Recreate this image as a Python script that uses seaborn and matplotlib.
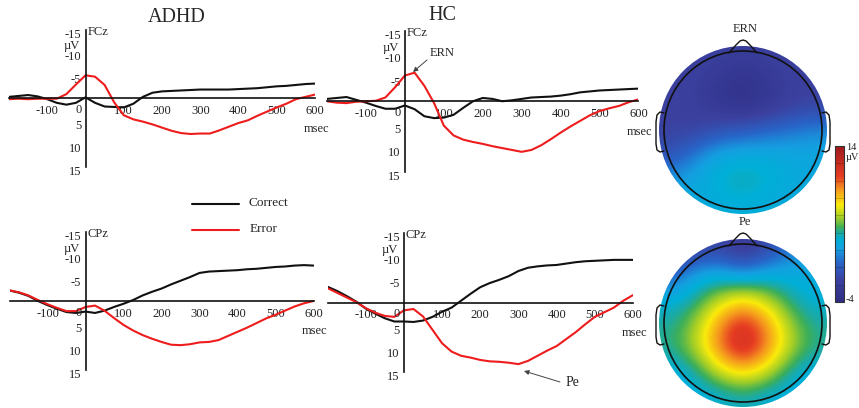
"""
ERN / Pe grand averages (ADHD vs HC) with scalp maps.
"""

import numpy as np
import pandas as pd
import matplotlib
matplotlib.use("Agg")
import matplotlib.pyplot as plt
import seaborn as sns
from matplotlib.colors import LinearSegmentedColormap, Normalize
from matplotlib.patches import Circle, FancyArrowPatch
from matplotlib.lines import Line2D
from matplotlib.transforms import ScaledTranslation

sns.set_style("white")
plt.rcParams['font.family'] = ['Liberation Serif', 'DejaVu Serif']
plt.rcParams['axes.unicode_minus'] = False

W, H = 859, 408

# --- waveform data (µV, 25 ms steps) ---
time_ms = [-200, -175, -150, -125, -100, -75, -50, -25, 0, 25, 50, 75, 100,
           125, 150, 175, 200, 225, 250, 275, 300, 325, 350, 375, 400, 425,
           450, 475, 500, 525, 550, 575, 600]

adhd_fcz_correct = [-0.3, -0.5, -0.7, -0.4, 0.2, 1.0, 1.4, 1.0, -0.2, 1.0, 1.8,
                    1.9, 2.0, 1.2, -0.3, -1.2, -1.5, -1.6, -1.7, -1.8, -1.9,
                    -1.9, -1.9, -1.9, -2.0, -2.1, -2.2, -2.4, -2.6, -2.7, -2.9,
                    -3.1, -3.2]
adhd_fcz_error = [0.2, 0.1, 0.2, 0.1, 0.1, 0.1, -0.9, -3.0, -5.0, -4.7, -2.9,
                  0.9, 3.7, 4.6, 5.1, 5.7, 6.4, 7.1, 7.6, 7.8, 7.7, 7.7, 7.0,
                  6.2, 5.4, 4.8, 3.8, 2.9, 2.0, 1.2, 0.2, -0.3, -0.8]

hc_fcz_correct = [-0.5, -0.7, -0.9, -0.3, 0.3, 1.0, 1.6, 1.6, 0.9, 1.7, 3.2,
                  3.6, 3.5, 2.9, 1.4, 0.0, -0.7, -0.5, 0.0, -0.2, -0.5, -0.8,
                  -0.9, -1.0, -1.2, -1.5, -1.9, -2.1, -2.3, -2.4, -2.5, -2.6,
                  -2.7]
hc_fcz_error = [0.0, 0.3, 0.4, 0.1, 0.0, -0.1, -0.8, -3.0, -5.5, -6.1, -3.3,
                0.4, 5.2, 7.3, 8.2, 8.7, 9.1, 9.6, 10.0, 10.4, 10.8, 10.4, 9.4,
                8.1, 6.7, 5.4, 4.2, 3.0, 2.1, 1.5, 1.0, 0.2, -0.4]

adhd_cpz_correct = [-2.3, -1.8, -1.1, 0.0, 0.9, 1.7, 2.4, 2.6, 2.3, 2.6, 2.1,
                    1.3, 0.6, -0.2, -1.2, -2.0, -2.7, -3.6, -4.4, -5.2, -6.1,
                    -6.4, -6.5, -6.6, -6.7, -6.9, -7.0, -7.2, -7.4, -7.5, -7.7,
                    -7.8, -7.7]
adhd_cpz_error = [-2.3, -1.9, -1.2, -0.2, 0.7, 1.5, 2.2, 2.2, 1.3, 1.0, 2.1,
                  3.7, 5.2, 6.4, 7.4, 8.2, 8.9, 9.5, 9.6, 9.4, 9.0, 8.9, 8.5,
                  7.6, 6.7, 5.8, 4.8, 3.8, 3.0, 2.1, 1.2, 0.5, 0.0]

hc_cpz_correct = [-3.4, -2.5, -1.4, -0.2, 1.3, 2.4, 3.4, 4.1, 4.1, 4.2, 3.9,
                  3.1, 2.0, 1.1, -0.4, -1.9, -3.3, -4.2, -4.9, -5.7, -6.8,
                  -7.5, -7.8, -8.0, -8.1, -8.4, -8.7, -8.9, -9.0, -9.1, -9.2,
                  -9.2, -9.2]
hc_cpz_error = [-3.1, -2.1, -1.1, -0.1, 1.2, 2.2, 2.9, 3.1, 1.7, 1.4, 3.0,
                5.9, 8.8, 10.6, 11.5, 11.9, 12.4, 12.7, 12.8, 13.0, 13.3, 12.6,
                11.5, 10.4, 9.4, 7.9, 6.4, 4.7, 3.1, 2.1, 1.1, -0.4, -1.6]

x_ticks = [-100, 100, 200, 300, 400, 500, 600]
y_ticks = [-15, -10, -5, 5, 10, 15]
conditions = ['Correct', 'Error']
palette = {'Correct': '#111111', 'Error': '#ee1c1c'}

# --- scalp maps: coarse 7x7 grid (rows front->back, cols left->right), µV ---
ern_topo = [
    [-1.5, -1.5, -1.7, -2.0, -1.7, -1.5, -1.5],
    [-1.5, -1.8, -2.6, -3.4, -2.6, -1.7, -1.5],
    [-1.5, -1.8, -2.6, -3.2, -2.5, -1.6, -1.3],
    [-1.5, -1.4, -0.5, 0.0, 0.5, 1.0, 1.5],
    [-0.5, 1.2, 2.6, 2.8, 2.8, 2.6, 2.5],
    [1.8, 2.5, 3.4, 3.9, 3.4, 2.8, 2.6],
    [2.6, 2.7, 2.9, 3.1, 2.9, 2.7, 2.6],
]
pe_topo = [
    [-2.0, -1.5, -1.0, -2.5, -1.0, 1.0, 2.0],
    [0.0, 2.5, 3.0, 2.0, 3.0, 2.8, 2.8],
    [3.0, 4.0, 6.0, 7.5, 6.0, 4.0, 3.0],
    [4.0, 5.5, 9.0, 11.5, 9.0, 5.5, 4.0],
    [4.2, 6.0, 9.5, 12.5, 9.5, 6.0, 4.2],
    [2.8, 3.8, 6.5, 8.0, 6.5, 3.8, 2.8],
    [2.5, 2.8, 3.2, 3.8, 3.2, 2.8, 2.5],
]
cbar_min, cbar_max = -4, 14
cbar_steps = [-2, 0, 2, 4, 6, 8, 10, 12]

# colour stops as (µV, colour), taken from the scale bar
cmap_stops = [(-4, '#2d2d82'), (-1.5, '#3c41a0'), (0.5, '#2864c8'),
              (2.1, '#14a0e1'), (3.2, '#00afd7'), (4.0, '#1eaaa0'),
              (4.6, '#3caf5a'), (5.7, '#a0cd28'), (7.2, '#faeb0a'),
              (9.0, '#f5961e'), (10.5, '#e63c23'), (14, '#a0191e')]
topo_cmap = LinearSegmentedColormap.from_list(
    'eeg', [((v - cbar_min) / (cbar_max - cbar_min), c) for v, c in cmap_stops])
norm = Normalize(cbar_min, cbar_max)


def fig_rect(x0, y0, x1, y1):
    """pixel box (top-left origin) -> figure fraction rect"""
    return [x0 / W, 1 - y1 / H, (x1 - x0) / W, (y1 - y0) / H]


def fig_xy(x, y):
    return (x / W, 1 - y / H)


def draw_erp(fig, box, correct, error, electrode):
    ax = fig.add_axes(fig_rect(*box))
    n = len(time_ms)
    df = pd.DataFrame({'time': time_ms * 2,
                       'amp': correct + error,
                       'cond': [conditions[0]] * n + [conditions[1]] * n})
    sns.lineplot(data=df, x='time', y='amp', hue='cond', palette=palette,
                 linewidth=1.5, legend=False, ax=ax)
    ax.set_xlim(-200, 600)
    ax.set_ylim(15, -15)
    ax.patch.set_visible(False)
    for s in ['top', 'right']:
        ax.spines[s].set_visible(False)
    ax.spines['left'].set_position(('data', 0))
    ax.spines['bottom'].set_position(('data', 0))
    for s in ['left', 'bottom']:
        ax.spines[s].set_linewidth(1.2)
        ax.spines[s].set_color('#111111')
    ax.set_xticks(x_ticks)
    ax.set_yticks(y_ticks)
    ax.tick_params(length=0, labelsize=9, labelcolor='#222222')
    ax.tick_params(axis='x', pad=5)
    ax.tick_params(axis='y', pad=3)
    # y labels in the original sit a few pixels below their values
    shift = ScaledTranslation(0, -3.5 / 100, fig.dpi_scale_trans)
    for tick in ax.yaxis.get_major_ticks():
        tick.label1.set_transform(tick.label1.get_transform() + shift)
    ax.set_xlabel('')
    ax.set_ylabel('')
    ax.text(-10, 2.5, '0', ha='right', va='center', fontsize=9, color='#222222')
    ax.text(5, -14.5, electrode, ha='left', va='center', fontsize=9)
    ax.text(-36, -11.3, 'µV', ha='center', va='center', fontsize=9)
    ax.text(570, 6.6, 'msec', ha='left', va='center', fontsize=9,
            clip_on=False)
    return ax


def draw_topo(fig, cx, cy, grid, label):
    ax = fig.add_axes(fig_rect(cx - 92, cy - 92, cx + 92, cy + 92))
    im = ax.imshow(np.array(grid), cmap=topo_cmap, norm=norm,
                   extent=[-84, 84, -84, 84], origin='upper',
                   interpolation='bicubic')
    im.set_clip_path(Circle((0, 0), 84, transform=ax.transData))
    ax.set_xlim(-92, 92)
    ax.set_ylim(-92, 92)
    ax.axis('off')
    ax.add_patch(Circle((0, 0), 79, fill=False, ec='#111111', lw=1.2))
    # nose
    ax.plot([-14, -7, -3, 0, 3, 7, 14], [77, 85, 89, 90, 89, 85, 77],
            color='#111111', lw=1.0, clip_on=False)
    # ears
    ear_x = [-79, -83, -86, -87, -87, -86, -83, -79]
    ear_y = [17, 18, 15, 8, -14, -20, -22, -21]
    ax.plot(ear_x, ear_y, color='#111111', lw=1.0, clip_on=False)
    ax.plot([-v for v in ear_x], ear_y, color='#111111', lw=1.0, clip_on=False)
    ax.text(2, 101, label, ha='center', va='center', fontsize=9, clip_on=False)
    return im


fig = plt.figure(figsize=(W / 100, H / 100), dpi=100)

draw_erp(fig, (9, 29.5, 315, 167), adhd_fcz_correct, adhd_fcz_error, 'FCz')
draw_erp(fig, (327, 31, 638.5, 171.5), hc_fcz_correct, hc_fcz_error, 'FCz')
draw_erp(fig, (9.5, 232, 313.5, 370), adhd_cpz_correct, adhd_cpz_error, 'CPz')
draw_erp(fig, (327.5, 233, 633, 372), hc_cpz_correct, hc_cpz_error, 'CPz')

fig.text(*fig_xy(177, 18), 'ADHD', ha='center', va='center', fontsize=14.5)
fig.text(*fig_xy(442, 15), 'HC', ha='center', va='center', fontsize=14.5)

# legend
for i, cond in enumerate(conditions):
    ly = [204, 229.5][i]
    x0, y0 = fig_xy(192, ly)
    x1, _ = fig_xy(239, ly)
    fig.add_artist(Line2D([x0, x1], [y0, y0], color=palette[cond], lw=1.5))
    fig.text(*fig_xy(248 + 2 * i, ly - 1), cond, ha='left', va='center',
             fontsize=9.5)

# component annotations
fig.text(*fig_xy(442, 53), 'ERN', ha='center', va='center', fontsize=9)
arr = dict(arrowstyle='-|>', color='#444444', lw=0.7, mutation_scale=7,
           shrinkA=0, shrinkB=0)
fig.add_artist(FancyArrowPatch(fig_xy(427, 60), fig_xy(413, 72),
                               transform=fig.transFigure, **arr))
fig.text(*fig_xy(572, 383), 'Pe', ha='center', va='center', fontsize=10)
fig.add_artist(FancyArrowPatch(fig_xy(560, 382), fig_xy(524, 371),
                               transform=fig.transFigure, **arr))

# scalp maps
im = draw_topo(fig, 743, 130, ern_topo, 'ERN')
draw_topo(fig, 743, 323, pe_topo, 'Pe')

cax = fig.add_axes(fig_rect(835, 146, 844, 302))
cb = fig.colorbar(im, cax=cax)
cb.set_ticks([])
cb.outline.set_linewidth(0.8)
cb.outline.set_edgecolor('#333333')
for v in cbar_steps:
    cax.axhline(v, color=(0, 0, 0, 0.25), lw=0.5)
fig.text(*fig_xy(846, 147), str(cbar_max), ha='left', va='center', fontsize=7.5)
fig.text(*fig_xy(846, 158), 'µV', ha='left', va='center', fontsize=7.5)
fig.text(*fig_xy(846, 300), str(cbar_min), ha='left', va='center', fontsize=7.5)

plt.savefig('out.png', dpi=100)
plt.close()
